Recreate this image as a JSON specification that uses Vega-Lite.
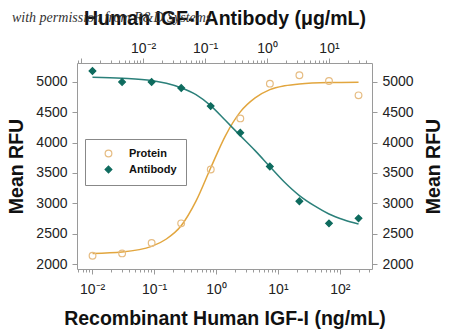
{
  "$schema": "https://vega.github.io/schema/vega-lite/v6.json",
  "width": 295,
  "height": 206,
  "autosize": {"type": "none"},
  "padding": {"left": 77, "top": 63, "right": 78, "bottom": 61},
  "background": "white",
  "config": {
    "font": "Liberation Sans",
    "view": {"stroke": null},
    "axis": {
      "grid": false,
      "domainColor": "#9a9a9a",
      "tickColor": "#9a9a9a",
      "labelFont": "Liberation Sans",
      "labelFontSize": 14,
      "labelColor": "#222222",
      "titleFont": "Liberation Sans",
      "titleFontSize": 19.5,
      "titleFontWeight": "bold",
      "titleColor": "#111111"
    }
  },
  "title": {
    "text": "with permission from R&D Systems",
    "orient": "top",
    "anchor": "start",
    "frame": "group",
    "dx": -65,
    "dy": 17,
    "offset": 0,
    "font": "Liberation Serif",
    "fontStyle": "italic",
    "fontWeight": "normal",
    "fontSize": 14,
    "color": "#333333"
  },
  "datasets": {
    "protein_pts": [
      {"conc": 0.01016, "rfu": 2137, "series": "Protein"},
      {"conc": 0.0305, "rfu": 2175, "series": "Protein"},
      {"conc": 0.0914, "rfu": 2346, "series": "Protein"},
      {"conc": 0.274, "rfu": 2670, "series": "Protein"},
      {"conc": 0.823, "rfu": 3556, "series": "Protein"},
      {"conc": 2.47, "rfu": 4398, "series": "Protein"},
      {"conc": 7.41, "rfu": 4970, "series": "Protein"},
      {"conc": 22.2, "rfu": 5107, "series": "Protein"},
      {"conc": 66.7, "rfu": 5013, "series": "Protein"},
      {"conc": 200, "rfu": 4777, "series": "Protein"}
    ],
    "protein_curve": [
      {"conc": 0.01016, "rfu": 2175},
      {"conc": 0.0305, "rfu": 2198},
      {"conc": 0.0914, "rfu": 2290},
      {"conc": 0.158, "rfu": 2412},
      {"conc": 0.274, "rfu": 2630},
      {"conc": 0.475, "rfu": 3035},
      {"conc": 0.823, "rfu": 3585},
      {"conc": 1.425, "rfu": 4115},
      {"conc": 2.47, "rfu": 4505},
      {"conc": 4.28, "rfu": 4735},
      {"conc": 7.41, "rfu": 4872},
      {"conc": 12.8, "rfu": 4935},
      {"conc": 22.2, "rfu": 4966},
      {"conc": 66.7, "rfu": 4988},
      {"conc": 200, "rfu": 4993}
    ],
    "antibody_pts": [
      {"conc": 0.00152, "rfu": 5178, "series": "Antibody"},
      {"conc": 0.00457, "rfu": 4997, "series": "Antibody"},
      {"conc": 0.0137, "rfu": 4997, "series": "Antibody"},
      {"conc": 0.0412, "rfu": 4898, "series": "Antibody"},
      {"conc": 0.123, "rfu": 4600, "series": "Antibody"},
      {"conc": 0.37, "rfu": 4162, "series": "Antibody"},
      {"conc": 1.11, "rfu": 3606, "series": "Antibody"},
      {"conc": 3.33, "rfu": 3033, "series": "Antibody"},
      {"conc": 10, "rfu": 2670, "series": "Antibody"},
      {"conc": 30, "rfu": 2752, "series": "Antibody"}
    ],
    "antibody_curve": [
      {"conc": 0.00152, "rfu": 5075},
      {"conc": 0.00457, "rfu": 5059},
      {"conc": 0.0137, "rfu": 5021},
      {"conc": 0.0237, "rfu": 4975},
      {"conc": 0.0412, "rfu": 4900},
      {"conc": 0.0713, "rfu": 4790},
      {"conc": 0.123, "rfu": 4609},
      {"conc": 0.214, "rfu": 4362},
      {"conc": 0.37, "rfu": 4114},
      {"conc": 0.642, "rfu": 3867},
      {"conc": 1.11, "rfu": 3604},
      {"conc": 1.92, "rfu": 3345},
      {"conc": 3.33, "rfu": 3126},
      {"conc": 5.77, "rfu": 2960},
      {"conc": 10, "rfu": 2824},
      {"conc": 17.3, "rfu": 2730},
      {"conc": 30, "rfu": 2659}
    ]
  },
  "layer": [
    {
      "encoding": {
        "x": {
          "field": "conc",
          "type": "quantitative",
          "scale": {"type": "log", "domain": [0.0057, 330], "nice": false},
          "axis": {
            "orient": "bottom",
            "title": "Recombinant Human IGF-I (ng/mL)",
            "values": [0.006, 0.007, 0.008, 0.009, 0.01, 0.02, 0.03, 0.04, 0.05, 0.06, 0.07, 0.08, 0.09, 0.1, 0.2, 0.3, 0.4, 0.5, 0.6, 0.7, 0.8, 0.9, 1, 2, 3, 4, 5, 6, 7, 8, 9, 10, 20, 30, 40, 50, 60, 70, 80, 90, 100, 200, 300],
            "labelExpr": "abs(log(datum.value)/LN10 - round(log(datum.value)/LN10)) > 0.001 ? '' : (round(log(datum.value)/LN10) == -2 ? '10⁻²' : round(log(datum.value)/LN10) == -1 ? '10⁻¹' : round(log(datum.value)/LN10) == 0 ? '10⁰' : round(log(datum.value)/LN10) == 1 ? '10¹' : '10²')",
            "tickSize": {"condition": {"test": "abs(log(datum.value)/LN10 - round(log(datum.value)/LN10)) < 0.001", "value": 5}, "value": 3},
            "labelPadding": 8,
            "titlePadding": 13,
            "labelOverlap": false,
            "labelFlush": false
          }
        },
        "y": {
          "field": "rfu",
          "type": "quantitative",
          "scale": {"domain": [1918, 5310], "nice": false, "zero": false},
          "axis": {
            "orient": "left",
            "title": "Mean RFU",
            "values": [2000, 2500, 3000, 3500, 4000, 4500, 5000],
            "format": "d",
            "tickSize": 5,
            "labelPadding": 5,
            "titlePadding": 9
          }
        }
      },
      "layer": [
        {
          "data": {"name": "protein_curve"},
          "mark": {"type": "line", "color": "#E2A63E", "strokeWidth": 1.5, "interpolate": "monotone"}
        },
        {
          "data": {"name": "protein_pts"},
          "mark": {"type": "point", "filled": true, "size": 45, "strokeWidth": 1.2, "opacity": 1},
          "encoding": {
            "shape": {"field": "series", "type": "nominal", "scale": {"domain": ["Protein", "Antibody"], "range": ["circle", "diamond"]},
              "legend": {"orient": "none", "legendX": 8, "legendY": 76, "title": null, "fillColor": "white", "strokeColor": "#888888", "padding": 9, "labelFontSize": 11, "labelFontWeight": "bold", "labelColor": "#111111", "symbolOffset": 9, "labelOffset": 15, "symbolSize": 45, "rowPadding": 3, "symbolStrokeWidth": 1.2, "symbolOpacity": 1}},
            "fill": {"field": "series", "type": "nominal", "scale": {"domain": ["Protein", "Antibody"], "range": ["transparent", "#0E6B5E"]},
              "legend": {"orient": "none", "legendX": 8, "legendY": 76, "title": null, "fillColor": "white", "strokeColor": "#888888", "padding": 9, "labelFontSize": 11, "labelFontWeight": "bold", "labelColor": "#111111", "symbolOffset": 9, "labelOffset": 15, "symbolSize": 45, "rowPadding": 3, "symbolStrokeWidth": 1.2, "symbolOpacity": 1}},
            "stroke": {"field": "series", "type": "nominal", "scale": {"domain": ["Protein", "Antibody"], "range": ["#E6BC82", "#0E6B5E"]},
              "legend": {"orient": "none", "legendX": 8, "legendY": 76, "title": null, "fillColor": "white", "strokeColor": "#888888", "padding": 9, "labelFontSize": 11, "labelFontWeight": "bold", "labelColor": "#111111", "symbolOffset": 9, "labelOffset": 15, "symbolSize": 45, "rowPadding": 3, "symbolStrokeWidth": 1.2, "symbolOpacity": 1}}
          }
        }
      ]
    },
    {
      "encoding": {
        "x": {
          "field": "conc",
          "type": "quantitative",
          "scale": {"type": "log", "domain": [0.000855, 49.5], "nice": false},
          "axis": {
            "orient": "top",
            "title": "Human IGF-I Antibody (μg/mL)",
            "values": [0.0009, 0.001, 0.002, 0.003, 0.004, 0.005, 0.006, 0.007, 0.008, 0.009, 0.01, 0.02, 0.03, 0.04, 0.05, 0.06, 0.07, 0.08, 0.09, 0.1, 0.2, 0.3, 0.4, 0.5, 0.6, 0.7, 0.8, 0.9, 1, 2, 3, 4, 5, 6, 7, 8, 9, 10, 20, 30, 40],
            "labelExpr": "abs(log(datum.value)/LN10 - round(log(datum.value)/LN10)) > 0.001 ? '' : (round(log(datum.value)/LN10) == -3 ? '' : round(log(datum.value)/LN10) == -2 ? '10⁻²' : round(log(datum.value)/LN10) == -1 ? '10⁻¹' : round(log(datum.value)/LN10) == 0 ? '10⁰' : '10¹')",
            "tickSize": {"condition": {"test": "abs(log(datum.value)/LN10 - round(log(datum.value)/LN10)) < 0.001", "value": 5}, "value": 3},
            "labelPadding": 3,
            "titlePadding": 13,
            "labelOverlap": false,
            "labelFlush": false
          }
        },
        "y": {
          "field": "rfu",
          "type": "quantitative",
          "scale": {"domain": [1918, 5310], "nice": false, "zero": false},
          "axis": {
            "orient": "right",
            "title": "Mean RFU",
            "titleAngle": 270,
            "values": [2000, 2500, 3000, 3500, 4000, 4500, 5000],
            "format": "d",
            "tickSize": 5,
            "labelPadding": 5,
            "titlePadding": 30
          }
        }
      },
      "layer": [
        {
          "data": {"name": "antibody_curve"},
          "mark": {"type": "line", "color": "#2B807A", "strokeWidth": 1.5, "interpolate": "monotone"}
        },
        {
          "data": {"name": "antibody_pts"},
          "mark": {"type": "point", "filled": true, "size": 45, "strokeWidth": 1.2, "opacity": 1},
          "encoding": {
            "shape": {"field": "series", "type": "nominal", "scale": {"domain": ["Protein", "Antibody"], "range": ["circle", "diamond"]},
              "legend": {"orient": "none", "legendX": 8, "legendY": 76, "title": null, "fillColor": "white", "strokeColor": "#888888", "padding": 9, "labelFontSize": 11, "labelFontWeight": "bold", "labelColor": "#111111", "symbolOffset": 9, "labelOffset": 15, "symbolSize": 45, "rowPadding": 3, "symbolStrokeWidth": 1.2, "symbolOpacity": 1}},
            "fill": {"field": "series", "type": "nominal", "scale": {"domain": ["Protein", "Antibody"], "range": ["transparent", "#0E6B5E"]},
              "legend": {"orient": "none", "legendX": 8, "legendY": 76, "title": null, "fillColor": "white", "strokeColor": "#888888", "padding": 9, "labelFontSize": 11, "labelFontWeight": "bold", "labelColor": "#111111", "symbolOffset": 9, "labelOffset": 15, "symbolSize": 45, "rowPadding": 3, "symbolStrokeWidth": 1.2, "symbolOpacity": 1}},
            "stroke": {"field": "series", "type": "nominal", "scale": {"domain": ["Protein", "Antibody"], "range": ["#E6BC82", "#0E6B5E"]},
              "legend": {"orient": "none", "legendX": 8, "legendY": 76, "title": null, "fillColor": "white", "strokeColor": "#888888", "padding": 9, "labelFontSize": 11, "labelFontWeight": "bold", "labelColor": "#111111", "symbolOffset": 9, "labelOffset": 15, "symbolSize": 45, "rowPadding": 3, "symbolStrokeWidth": 1.2, "symbolOpacity": 1}}
          }
        }
      ]
    }
  ],
  "resolve": {"scale": {"x": "independent", "y": "independent"}}
}
